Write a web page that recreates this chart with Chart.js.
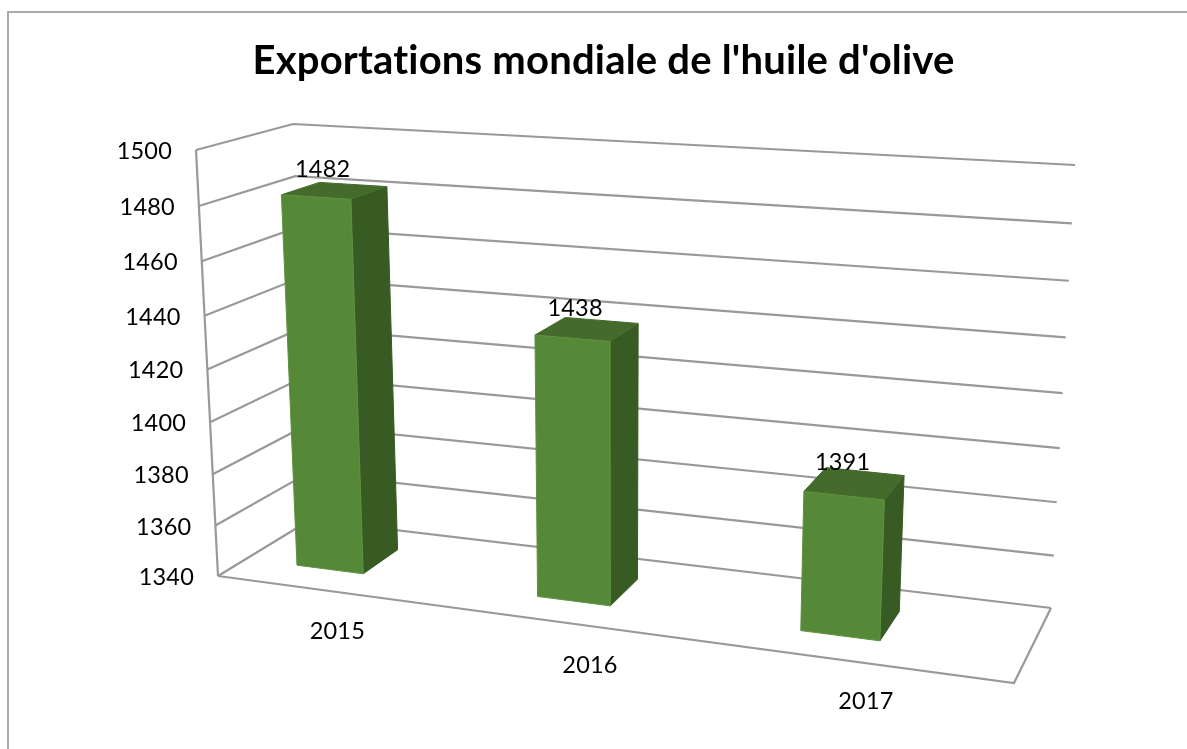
<!DOCTYPE html>
<html><head><meta charset="utf-8">
<style>html,body{margin:0;padding:0;background:#fff;overflow:hidden}canvas{display:block}</style>
<script src="https://cdn.jsdelivr.net/npm/chart.js@4"></script>
</head><body><canvas id="c" width="1187" height="749"></canvas>
<script>
const categories = ['2015', '2016', '2017'];
const seriesName = 'Exportations';
const seriesValues = [1482, 1438, 1391];
const titleText = "Exportations mondiale de l'huile d'olive";
const axisMin = 1340, axisMax = 1500, axisStep = 20;

// View of the 3D box: where its corners land on the page.
const VIEW = {
  frontBottomL:[218,576], frontBottomR:[1014,683], frontTopL:[196,150], frontTopR:[1036,200],
  backBottomL:[310,520],  backBottomR:[1051,608],  backTopL:[293,124],  backTopR:[1075,165]
};
const lerp=(a,b,t)=>[a[0]+(b[0]-a[0])*t,a[1]+(b[1]-a[1])*t];
function project(s,v,w){
  const V=VIEW;
  const vv=v-0.06*v*(1-v);
  const fb=lerp(V.frontBottomL,V.frontBottomR,s), ft=lerp(V.frontTopL,V.frontTopR,s);
  const bb=lerp(V.backBottomL,V.backBottomR,s), bt=lerp(V.backTopL,V.backTopR,s);
  return lerp(lerp(fb,ft,vv),lerp(bb,bt,vv),w);
}
const warp=p=>-0.0386+0.852*p+0.1305*p*p;
const DEPTH_FRONT=0.31, DEPTH_BACK=0.72;
const GRID='#999999', FRONT='#568937', TOP='#446b2b', SIDE='#385a23', EDGE='#5e9140';

function sx(chart,px){const a=chart.scales.x;return warp((px-a.left)/a.width);}
function vy(chart,py){const a=chart.scales.y;return (a.bottom-py)/a.height;}
function poly(ctx,pts,fill,stroke){
  ctx.beginPath();pts.forEach((p,i)=>i?ctx.lineTo(p[0],p[1]):ctx.moveTo(p[0],p[1]));ctx.closePath();
  ctx.fillStyle=fill;ctx.fill();
  ctx.strokeStyle=stroke||fill;ctx.lineWidth=1;ctx.stroke();
}
function line(ctx,pts,color,w){
  ctx.beginPath();pts.forEach((p,i)=>i?ctx.lineTo(p[0],p[1]):ctx.moveTo(p[0],p[1]));
  ctx.strokeStyle=color;ctx.lineWidth=w;ctx.lineJoin='miter';ctx.stroke();
}

class Bar3D extends Chart.BarElement{
  draw(ctx){
    const {x,y,base,width}=this.getProps(['x','y','base','width'],true);
    const chart=this.$chart; if(!chart) return;
    const l=sx(chart,x-width/2), r=sx(chart,x+width/2), t=vy(chart,y), b=vy(chart,base);
    const f=DEPTH_FRONT,k=DEPTH_BACK;
    poly(ctx,[project(r,b,f),project(r,t,f),project(r,t,k),project(r,b,k)],SIDE);
    poly(ctx,[project(l,t,f),project(r,t,f),project(r,t,k),project(l,t,k)],TOP);
    poly(ctx,[project(l,b,f),project(r,b,f),project(r,t,f),project(l,t,f)],FRONT,EDGE);
    this.$top=project((l+r)/2,t,(f+k)/2);
  }
}
Bar3D.id='bar3d';
Bar3D.defaults=Chart.BarElement.defaults;
Bar3D.defaultRoutes=Chart.BarElement.defaultRoutes;
class Bar3DController extends Chart.BarController{
  update(mode){super.update(mode);this.getMeta().data.forEach(e=>e.$chart=this.chart);}
}
Bar3DController.id='bar3d';
Bar3DController.defaults=Object.assign({},Chart.BarController.defaults,{dataElementType:'bar3d'});
Bar3DController.overrides=Chart.BarController.overrides;
Chart.register(Bar3D,Bar3DController);

const box3d={
  id:'box3d',
  beforeDraw(chart){ chart.ctx.letterSpacing='0.2px'; },
  beforeDatasetsDraw(chart){
    const ctx=chart.ctx,Y=chart.scales.y;
    ctx.save();
    line(ctx,[[8,749],[8,12],[1187,12]],'#ababab',2);
    const floor=[project(0,0,1),project(1,0,1),project(1,0,0),project(0,0,0)];
    for(const t of Y.ticks){
      const v=vy(chart,Y.getPixelForValue(t.value));
      line(ctx,[project(0,v,0),project(0,v,1),project(1,v,1)],GRID,2.2);
    }
    line(ctx,[project(0,1,0),project(0,0,0)],GRID,2.2);
    line(ctx,[floor[1],floor[2],floor[3]],GRID,2.2);
    ctx.restore();
  },
  afterDatasetsDraw(chart){
    const ctx=chart.ctx,Y=chart.scales.y,X=chart.scales.x;
    ctx.save();
    ctx.fillStyle='#000';ctx.textBaseline='middle';
    ctx.font='23.5px Lato';
    ctx.textAlign='right';
    for(const t of Y.ticks){
      const p=project(0,vy(chart,Y.getPixelForValue(t.value)),0);
      ctx.fillText(t.label,p[0]-24,p[1]+1.5);
    }
    ctx.textAlign='center';
    categories.forEach((c,i)=>{
      const s=sx(chart,X.getPixelForValue(i));
      const p=project(s,0,0);
      ctx.fillText(X.getLabelForValue(i),p[0]+33+11*s,p[1]+44);
    });
    chart.getDatasetMeta(0).data.forEach((e,i)=>{
      ctx.fillText(String(seriesValues[i]),e.$top[0]-12,e.$top[1]-21);
    });
    ctx.restore();
  }
};

new Chart(document.getElementById('c'),{
  type:'bar3d',
  data:{labels:categories,datasets:[{label:seriesName,data:seriesValues,base:axisMin,barPercentage:0.285,categoryPercentage:1}]},
  options:{
    responsive:false,animation:false,
    layout:{padding:{left:20}},
    plugins:{
      legend:{display:false},tooltip:{enabled:false},
      title:{display:true,text:titleText,color:'#000',font:{family:'Lato',size:40,weight:'bold',lineHeight:1.2},padding:{top:37,bottom:10}}
    },
    scales:{
      x:{type:'category',display:false},
      y:{type:'linear',display:false,min:axisMin,max:axisMax,ticks:{stepSize:axisStep,callback:v=>String(v)}}
    }
  },
  plugins:[box3d]
});
</script></body></html>
